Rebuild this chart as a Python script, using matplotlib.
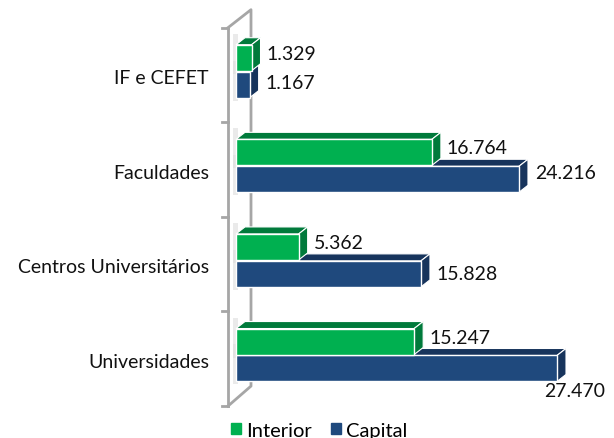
import matplotlib
matplotlib.use("Agg")
import matplotlib.pyplot as plt
from matplotlib.patches import Patch, Polygon, Rectangle

plt.rcParams['font.family'] = ['Lato', 'DejaVu Sans']

categorias = ["Universidades", "Centros Universitários", "Faculdades", "IF e CEFET"]
interior = [15247, 5362, 16764, 1329]
capital = [27470, 15828, 24216, 1167]
rot_interior = ["15.247", "5.362", "16.764", "1.329"]
rot_capital = ["27.470", "15.828", "24.216", "1.167"]
# vertical nudges of the capital labels, pixels
sobe_capital = [0, 1.5, 8, 3.5]

W, H = 614, 439
x0_px = 236
px_x = 321 / 27470          # pixels per unit on x
px_y = 94.6                 # pixels per category
y0_px = 356                 # pixel row of category 0

fig = plt.figure(figsize=(W / 100, H / 100), dpi=100)
ax = fig.add_axes([0, 0, 1, 1])
ax.set_xlim(-x0_px / px_x, (W - x0_px) / px_x)
ax.set_ylim(-(H - y0_px) / px_y, y0_px / px_y)
ax.axis("off")

dx = 9 / px_x
dy = 7 / px_y
h = 26 / px_y
gris = "#a6a6a6"
xs = 8 / px_x               # wall is left of the zero line
ybot = -0.54
ytop = 3.46

# wall
ax.plot([-xs, -xs], [ybot, ytop], color=gris, lw=2, zorder=1)
ax.plot([-xs, -xs + 23 / px_x, -xs + 23 / px_x, -xs],
        [ytop, ytop + 18 / px_y, ybot + 20 / px_y, ybot], color=gris, lw=2, zorder=1)
for i in range(5):
    ax.plot([-xs - 6 / px_x, -xs], [ybot + i, ybot + i], color=gris, lw=2, zorder=1)


def barra(x, y, cor, escura, z):
    # soft shadow on the wall
    ax.add_patch(Rectangle((-3 / px_x, y - 3 / px_y), 5 / px_x, h + 14 / px_y,
                           color="#dddddd", alpha=0.6, lw=0, zorder=2))
    ax.add_patch(Polygon([(0, y + h), (dx, y + h + dy), (x + dx, y + h + dy), (x, y + h)],
                         facecolor=escura, edgecolor="white", lw=0.8, zorder=z))
    ax.add_patch(Polygon([(x, y), (x + dx, y + dy), (x + dx, y + h + dy), (x, y + h)],
                         facecolor=escura, edgecolor="white", lw=0.8, zorder=z))
    ax.add_patch(Rectangle((0, y), x, h, facecolor=cor, edgecolor="white", lw=1, zorder=z + 0.1))


for i, cat in enumerate(categorias):
    barra(capital[i], i - h - 0.005, "#1f497d", "#17345c", 3)
    barra(interior[i], i + 0.005, "#00b050", "#007a3b", 4)
    ax.text(-27 / px_x, i - 6.5 / px_y, cat, ha="right", va="center", fontsize=14, color="#111111")

# data labels
for i in range(4):
    ax.text(interior[i] + 15 / px_x, i + h / 2 + 5 / px_y, rot_interior[i],
            ha="left", va="center", fontsize=14, color="#111111", zorder=6)
for i in range(3, 0, -1):
    ax.text(capital[i] + 16 / px_x, i - h / 2 - 0.02 + sobe_capital[i] / px_y, rot_capital[i],
            ha="left", va="center", fontsize=14, color="#111111", zorder=6)
ax.text(capital[0] + 18 / px_x, 0 - h - 10 / px_y, rot_capital[0],
        ha="center", va="center", fontsize=14, color="#111111", zorder=6)

leg = ax.legend(handles=[Patch(color="#00b050", label="Interior"), Patch(color="#1f497d", label="Capital")],
                loc="lower left", bbox_to_anchor=(217 / W, -15 / H), ncol=2, frameon=False,
                fontsize=14.5, handlelength=0.5, handleheight=0.5, handletextpad=0.25,
                columnspacing=0.95, borderpad=0.2)

fig.savefig("out.png", dpi=100, facecolor="white")
